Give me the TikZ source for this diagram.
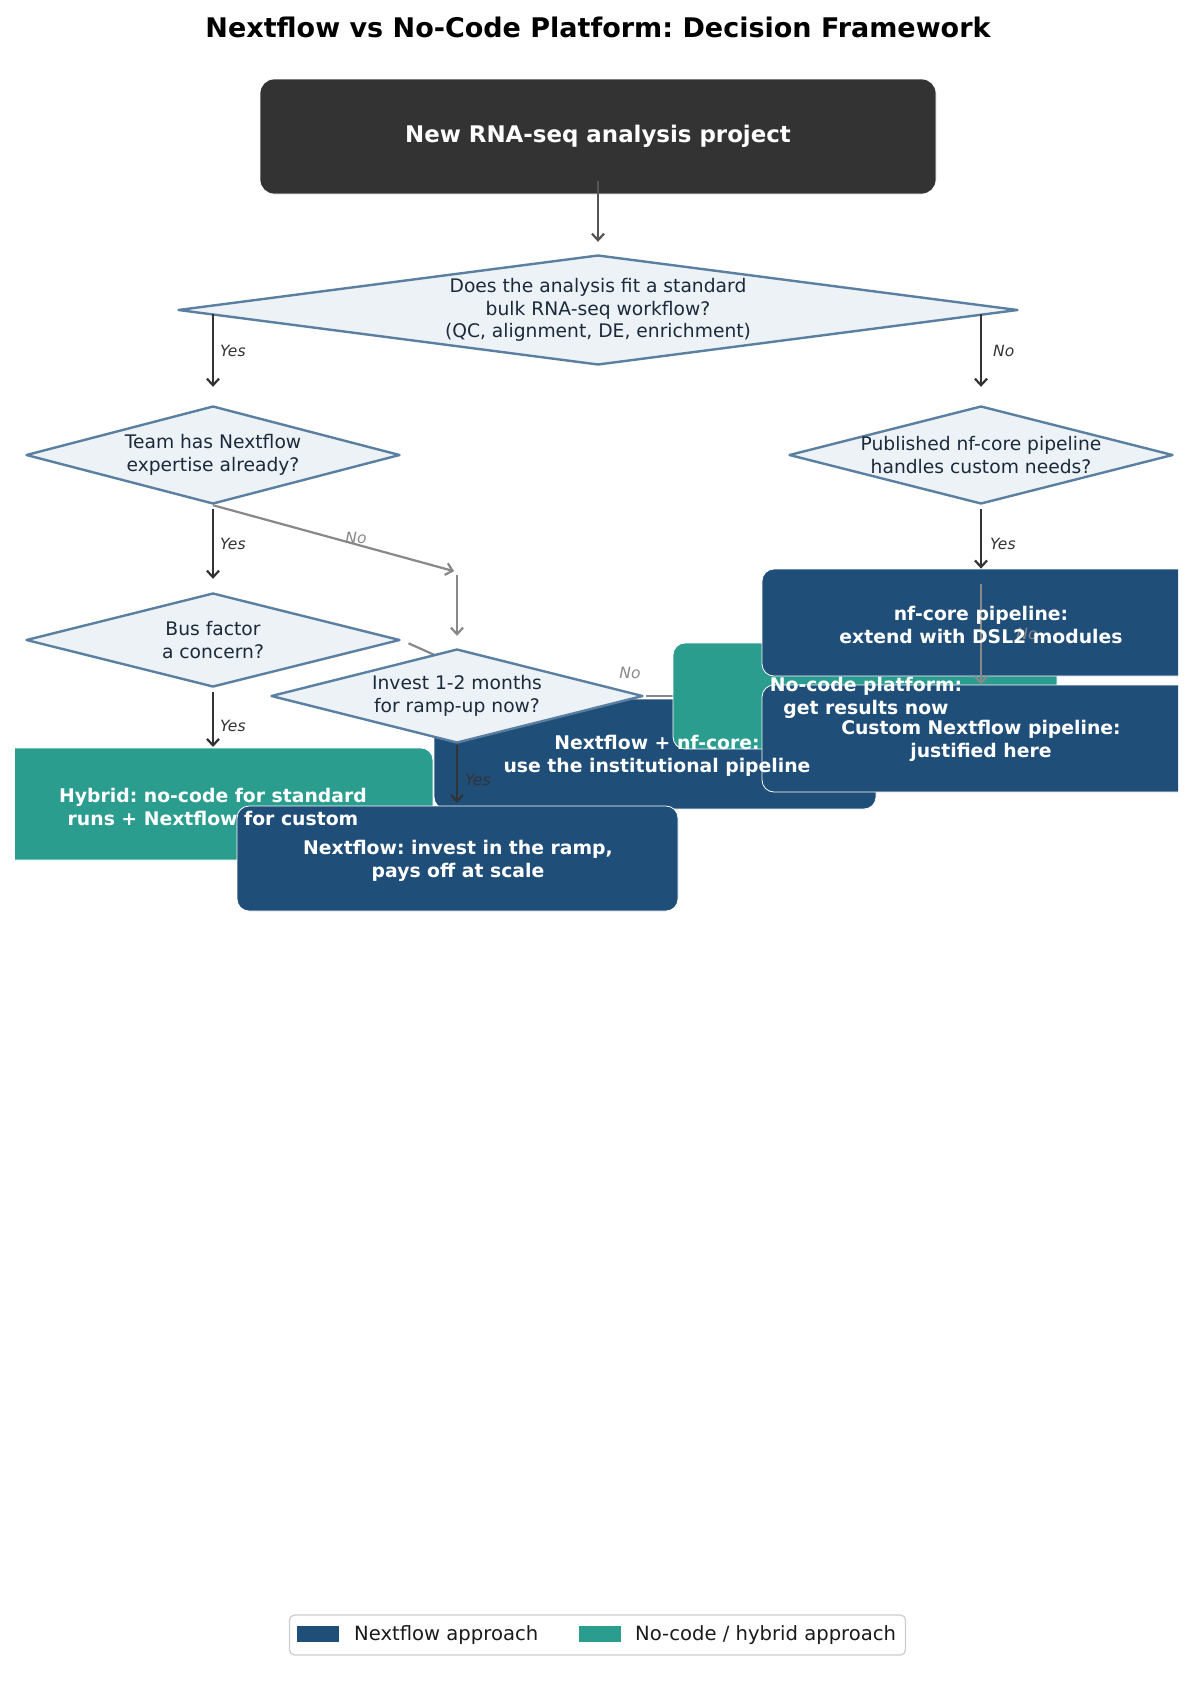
\documentclass[tikz,border=0pt]{standalone}
\usepackage{fontspec}
\setmainfont{DejaVu Sans}
\usetikzlibrary{shapes.geometric,arrows.meta,calc}
\frenchspacing
\definecolor{nfblue}{HTML}{1F4E79}
\definecolor{nocteal}{HTML}{2A9D8F}
\definecolor{topgray}{HTML}{333333}
\definecolor{dfill}{HTML}{EDF2F7}
\definecolor{dline}{HTML}{5A7FA0}
\definecolor{dtxt}{HTML}{1B2A3A}
\definecolor{arrdark}{HTML}{333333}
\definecolor{arrgray}{HTML}{888888}
\definecolor{arrmid}{HTML}{555555}
\definecolor{legframe}{HTML}{CCCCCC}
\definecolor{legtxt}{HTML}{1A1A1A}
\tikzset{
  boxbase/.style={rectangle, rounded corners=12pt, draw=white, line width=0.8pt, inner sep=0pt},
  nfbox/.style={boxbase, fill=nfblue},
  ncbox/.style={boxbase, fill=nocteal},
  topbox/.style={boxbase, fill=topgray, rounded corners=14pt},
  decision/.style={diamond, draw=dline, fill=dfill, line width=2.4pt, line join=round, inner sep=0pt},
  dtext/.style={text=dtxt, align=center, inner sep=0pt, font=\fontsize{18.7}{22.4}\selectfont},
  btext/.style={text=white, align=center, inner sep=0pt, font=\bfseries\fontsize{18.8}{22.6}\selectfont},
  tiphead/.style={-{Straight Barb[length=6.5pt,width=12pt]}},
  darr/.style={draw=arrdark, line width=2.2pt, tiphead},
  garr/.style={draw=arrgray, line width=2.2pt, tiphead},
  marr/.style={draw=arrmid, line width=2.2pt, tiphead},
  ylab/.style={text=arrdark, inner sep=0pt, font=\itshape\fontsize{15.5}{18}\selectfont},
  nlab/.style={text=arrgray, inner sep=0pt, font=\itshape\fontsize{15.5}{18}\selectfont},
  legtext/.style={text=legtxt, anchor=west, inner sep=0pt, font=\fontsize{19.6}{23}\selectfont},
}
\begin{document}
\begin{tikzpicture}[x=1pt,y=-1pt]
\useasboundingbox (0,0) rectangle (1192,1687);

% title
\node[font=\bfseries\fontsize{27}{32}\selectfont, text=black] (title) at (598,27)
  {Nextflow vs No-Code Platform: Decision Framework};

\begin{scope}
\clip (15,0) rectangle (1178,1687);

% start box and first decision
\node[topbox, minimum width=676pt, minimum height=115pt] (start) at (598,136.5) {};
\node[decision, minimum width=840pt, minimum height=110pt] (d1) at (598,310) {};
\draw[marr, shorten <=44pt, shorten >=12pt] (start.center) -- (d1.north);

% decisions 2, 3
\node[decision, minimum width=374pt, minimum height=98pt] (d2) at (213,455) {};
\node[decision, minimum width=384pt, minimum height=98pt] (d3) at (981,455) {};
\draw[darr, shorten <=4pt, shorten >=18pt] (d1.center -| d2.north) -- (d2.north);
\draw[darr, shorten <=4pt, shorten >=18pt] (d1.center -| d3.north) -- (d3.north);

% decision 4 and relay point
\node[decision, minimum width=374pt, minimum height=94pt] (d4) at (213,640) {};
\coordinate (relay) at (457,572);
\draw[darr, shorten <=4pt, shorten >=13pt] (d2.south) -- (d4.north);
\draw[garr, shorten >=3pt] (d2.south) -- (relay);

% Bus factor: No (mostly hidden behind later shapes)
\coordinate (nfipos) at (655,754);
\draw[garr, shorten <=8pt, shorten >=60pt] (d4.east) -- (nfipos);

% Nextflow + nf-core box
\node[nfbox, minimum width=442pt, minimum height=110pt] (nfi) at (nfipos) {};

% decision 5
\node[decision, minimum width=372pt, minimum height=94pt] (d5) at (457,696) {};
\draw[garr, shorten <=3pt, shorten >=12pt] (relay) -- (d5.north);

% free ends of connectors whose targets are drawn later
\coordinate (hybn) at (213,748);
\coordinate (nfxn) at (457,806);
\coordinate (nocw) at (705,696);

\draw[darr, shorten <=4pt, shorten >=1pt] (d4.south) -- (hybn);
\draw[darr, shorten <=1pt, shorten >=3pt] (d5.south) -- (nfxn);
\draw[garr, shorten <=2pt] (d5.east) -- (nocw);

% no-code box over nfi, then right column boxes over it
\node[ncbox, minimum width=384pt, minimum height=106pt] (noc) at (865,696) {};
\node[nfbox, minimum width=438pt, minimum height=107pt] (nfc) at (981,622.5) {};
\node[nfbox, minimum width=438pt, minimum height=107pt] (cus) at (981,738.5) {};
\draw[darr, shorten <=4pt] (d3.south) -- (nfc.north);
\draw[garr, shorten <=79pt] (d3.south) -- (cus.north);

% bottom-left boxes
\node[ncbox, minimum width=440pt, minimum height=112pt] (hyb) at (213,804) {};
\node[nfbox, minimum width=441pt, minimum height=105pt] (nfx) at (457.5,858.5) {};

% edge labels
\node[ylab, anchor=west] (l1) at (220,351) {Yes};
\node[ylab, anchor=west] (l2) at (993,351) {No};
\node[ylab, anchor=west] (l3) at (220,544) {Yes};
\node[nlab] (l4) at (356,538) {No};
\node[ylab, anchor=west] (l5) at (990,544) {Yes};
\node[ylab, anchor=west] (l6) at (220,726) {Yes};
\node[ylab, anchor=west] (l7) at (465,780) {Yes};
\node[nlab] (l8) at (630,673) {No};
\node[nlab] (l9) at (1027,634) {No};

% texts
\node[text=white, align=center, inner sep=0pt, font=\bfseries\fontsize{22.9}{27}\selectfont] (startt) at (598,136.5) {New RNA-seq analysis project};
\node[dtext] (d1t) at (598,310) {Does the analysis fit a standard\\bulk RNA-seq workflow?\\(QC, alignment, DE, enrichment)};
\node[dtext] (d2t) at (213,455) {Team has Nextflow\\expertise already?};
\node[dtext] (d3t) at (981,455) {Published nf-core pipeline\\handles custom needs?};
\node[dtext] (d4t) at (213,640) {Bus factor\\a concern?};
\node[dtext] (d5t) at (457,696) {Invest 1-2 months\\for ramp-up now?};
\node[btext] (nfit) at (657,756) {Nextflow + nf-core:\\use the institutional pipeline};
\node[btext] (noct) at (866,698) {No-code platform:\\get results now};
\node[btext] (nfct) at (981,625) {nf-core pipeline:\\extend with DSL2 modules};
\node[btext] (cust) at (981,741) {Custom Nextflow pipeline:\\justified here};
\node[btext] (hybt) at (213,807) {Hybrid: no-code for standard\\runs + Nextflow for custom};
\node[btext] (nfxt) at (458,861) {Nextflow: invest in the ramp,\\pays off at scale};
\end{scope}

% legend
\node[draw=legframe, fill=white, rounded corners=5pt, line width=1.2pt, minimum width=616pt, minimum height=40pt, inner sep=0pt] (legend) at (597.5,1635) {};
\node[fill=nfblue, minimum width=42pt, minimum height=16pt, inner sep=0pt] (sw1) at (318,1634) {};
\node[legtext] (lt1) at (354,1635) {Nextflow approach};
\node[fill=nocteal, minimum width=42pt, minimum height=16pt, inner sep=0pt] (sw2) at (600,1634) {};
\node[legtext] (lt2) at (635,1635) {No-code / hybrid approach};
\end{tikzpicture}
\end{document}
